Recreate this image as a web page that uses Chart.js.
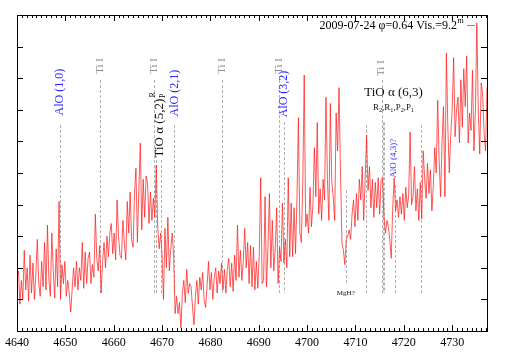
<!DOCTYPE html>
<html>
<head>
<meta charset="utf-8">
<script src="https://cdn.jsdelivr.net/npm/chart.js@4.4.1/dist/chart.umd.min.js"></script>
<style>
  html, body { margin: 0; padding: 0; background: #fff; }
</style>
</head>
<body>
<canvas id="spec" width="509" height="356"></canvas>
<script>
// wavelength grid (Angstrom)
const wavelength = [
  4640.0,4640.3,4640.6,4640.9,4641.2,4641.5,4641.8,4642.1,4642.4,4642.7,
  4643.0,4643.3,4643.6,4643.9,4644.2,4644.5,4644.8,4645.1,4645.4,4645.7,
  4646.0,4646.3,4646.6,4646.9,4647.2,4647.5,4647.8,4648.1,4648.4,4648.7,
  4649.0,4649.3,4649.6,4649.9,4650.2,4650.5,4650.8,4651.1,4651.4,4651.7,
  4652.0,4652.3,4652.6,4652.9,4653.2,4653.5,4653.8,4654.1,4654.4,4654.7,
  4655.0,4655.3,4655.6,4655.9,4656.2,4656.5,4656.8,4657.1,4657.4,4657.7,
  4658.0,4658.3,4658.6,4658.9,4659.2,4659.5,4659.8,4660.1,4660.4,4660.7,
  4661.0,4661.3,4661.6,4661.9,4662.2,4662.5,4662.8,4663.1,4663.4,4663.7,
  4664.0,4664.3,4664.6,4664.9,4665.2,4665.5,4665.8,4666.1,4666.4,4666.7,
  4667.0,4667.3,4667.6,4667.9,4668.2,4668.5,4668.8,4669.1,4669.4,4669.7,
  4670.0,4670.3,4670.6,4670.9,4671.2,4671.5,4671.8,4672.1,4672.4,4672.7,
  4673.0,4673.3,4673.6,4673.9,4674.2,4674.5,4674.8,4675.1,4675.4,4675.7,
  4676.0,4676.3,4676.6,4676.9,4677.2,4677.5,4677.8,4678.1,4678.4,4678.7,
  4679.0,4679.3,4679.6,4679.9,4680.2,4680.5,4680.8,4681.1,4681.4,4681.7,
  4682.0,4682.3,4682.6,4682.9,4683.2,4683.5,4683.8,4684.1,4684.4,4684.7,
  4685.0,4685.3,4685.6,4685.9,4686.2,4686.5,4686.8,4687.1,4687.4,4687.7,
  4688.0,4688.3,4688.6,4688.9,4689.2,4689.5,4689.8,4690.1,4690.4,4690.7,
  4691.0,4691.3,4691.6,4691.9,4692.2,4692.5,4692.8,4693.1,4693.4,4693.7,
  4694.0,4694.3,4694.6,4694.9,4695.2,4695.5,4695.8,4696.1,4696.4,4696.7,
  4697.0,4697.3,4697.6,4697.9,4698.2,4698.5,4698.8,4699.1,4699.4,4699.7,
  4700.0,4700.3,4700.6,4700.9,4701.2,4701.5,4701.8,4702.1,4702.4,4702.7,
  4703.0,4703.3,4703.6,4703.9,4704.2,4704.5,4704.8,4705.1,4705.4,4705.7,
  4706.0,4706.3,4706.6,4706.9,4707.2,4707.5,4707.8,4708.1,4708.4,4708.7,
  4709.0,4709.3,4709.6,4709.9,4710.2,4710.5,4710.8,4711.1,4711.4,4711.7,
  4712.0,4712.3,4712.6,4712.9,4713.2,4713.5,4713.8,4714.1,4714.4,4714.7,
  4715.0,4715.3,4715.6,4715.9,4716.2,4716.5,4716.8,4717.1,4717.4,4717.7,
  4718.0,4718.3,4718.6,4718.9,4719.2,4719.5,4719.8,4720.1,4720.4,4720.7,
  4721.0,4721.3,4721.6,4721.9,4722.2,4722.5,4722.8,4723.1,4723.4,4723.7,
  4724.0,4724.3,4724.6,4724.9,4725.2,4725.5,4725.8,4726.1,4726.4,4726.7,
  4727.0,4727.3,4727.6,4727.9,4728.2,4728.5,4728.8,4729.1,4729.4,4729.7,
  4730.0,4730.3,4730.6,4730.9,4731.2,4731.5,4731.8,4732.1,4732.4,4732.7,
  4733.0,4733.3,4733.6,4733.9,4734.2,4734.5,4734.8,4735.1,4735.4,4735.7,
  4736.0,4736.3,4736.6,4736.9,4737.2
];

// relative flux (plot units, bottom of frame = 0, top = 10)
const flux = [
  1.7,1.9,0.85,1.6,1.0,2.55,1.3,2.0,0.95,2.4,
  1.2,2.15,1.0,1.8,2.9,1.5,1.1,2.2,1.4,2.8,
  1.3,3.35,1.6,1.1,3.1,1.9,1.05,2.6,1.4,4.1,
  1.0,2.1,1.5,2.2,1.1,1.6,1.2,0.6,1.3,2.0,
  1.4,2.2,1.3,2.0,1.6,2.8,1.35,2.5,1.5,2.3,
  2.5,1.5,2.1,1.7,3.7,2.3,1.9,2.7,1.2,2.2,
  2.8,2.0,3.0,2.35,3.1,3.4,2.45,3.1,2.25,4.15,
  3.0,2.4,2.3,3.5,2.8,2.25,4.1,3.1,4.4,2.9,
  2.65,4.35,5.15,2.8,4.5,5.95,3.2,4.8,3.6,4.9,
  4.7,3.4,4.4,3.5,4.2,3.6,5.25,3.3,2.6,3.1,
  2.4,1.0,3.25,2.0,3.6,1.9,2.6,3.1,2.35,0.55,
  1.1,0.55,0.9,0.1,1.2,1.6,0.9,1.95,1.2,1.5,
  1.4,0.75,0.2,1.1,1.6,0.85,1.7,1.3,1.85,1.0,
  0.75,1.4,2.2,1.3,1.85,1.0,1.7,2.0,1.2,1.9,
  1.5,2.15,1.3,1.95,1.2,1.95,2.3,1.4,2.15,1.25,
  2.4,1.6,3.35,1.7,2.55,1.6,2.2,3.25,2.0,2.8,
  1.5,2.7,1.4,2.65,1.3,2.2,1.35,2.4,4.85,1.5,
  1.6,4.25,1.4,2.65,4.35,2.0,3.5,1.9,2.6,3.9,
  1.5,2.65,2.2,4.05,2.15,2.9,2.0,4.85,2.35,4.05,
  2.35,3.9,2.45,4.2,6.75,3.1,2.8,4.7,8.1,3.3,
  3.7,3.1,4.55,3.3,4.0,5.8,4.25,6.6,3.7,4.5,
  3.5,4.8,4.15,7.4,4.8,3.5,7.2,4.7,4.25,3.5,
  6.9,5.7,7.7,5.0,2.8,2.55,2.1,2.9,3.0,3.2,
  2.9,3.7,4.15,3.3,4.35,3.5,4.8,4.15,5.2,3.5,
  4.8,6.2,4.45,5.2,3.9,4.8,3.6,4.7,3.9,4.85,
  3.7,4.8,4.85,3.6,3.1,3.5,3.3,2.9,2.3,3.9,
  4.85,3.8,4.15,3.6,4.25,3.7,4.35,3.5,4.55,3.9,
  4.3,6.3,4.0,4.25,5.2,3.8,4.5,3.5,4.7,3.55,
  5.7,4.85,4.2,5.3,4.35,5.1,3.8,4.6,5.8,5.0,
  7.3,5.4,4.25,5.95,7.1,4.25,8.8,6.45,5.0,6.2,
  7.0,8.65,6.15,7.0,7.4,5.95,7.95,6.45,8.3,7.1,
  8.7,5.95,6.9,6.35,8.25,5.7,7.0,9.75,7.0,5.6,
  7.85,7.5,6.25,5.7,7.7
];

const xTicks = [4640, 4650, 4660, 4670, 4680, 4690, 4700, 4710, 4720, 4730];
const seriesName = '2009-07-24 \u03c6=0.64 Vis.=9.2';

// line identifications: [wavelength, top, bottom] in plot units
const lineMarks = [
  [4648.95, 6.52, 1.2],
  [4657.18, 7.94, 1.2],
  [4668.29, 7.94, 1.2],
  [4668.77, 5.41, 1.2],
  [4669.73, 5.41, 1.2],
  [4672.5, 6.52, 1.2],
  [4682.49, 7.94, 1.2],
  [4694.22, 7.94, 1.2],
  [4695.25, 6.61, 1.2],
  [4708.0, 4.46, 1.52],
  [4712.12, 6.52, 1.2],
  [4715.4, 7.94, 1.2],
  [4715.7, 6.6, 1.2],
  [4716.0, 6.6, 1.2],
  [4718.1, 4.62, 1.2],
  [4723.45, 6.52, 1.2]
];

// labels: [text, wavelength, y, colour, size, rotated]
const lineLabels = [
  ['AlO (1,0)', 4648.95, 7.56, '#2b2bff', 12, true],
  ['Ti I', 4657.18, 8.39, '#8c8c8c', 11, true],
  ['Ti I', 4668.29, 8.39, '#8c8c8c', 11, true],
  ['TiO \u03b1 (5,2)', 4669.5, 6.42, '#111', 13, true],
  ['R', 4668.09, 7.47, '#111', 8, true],
  ['P', 4670.25, 7.44, '#111', 8, true],
  ['AlO (2,1)', 4672.61, 7.53, '#2b2bff', 12, true],
  ['Ti I', 4682.49, 8.39, '#8c8c8c', 11, true],
  ['Ti I', 4694.22, 8.39, '#8c8c8c', 11, true],
  ['AlO (3,2)', 4695.25, 7.5, '#2b2bff', 12, true],
  ['Ti I', 4715.4, 8.32, '#8c8c8c', 11, true],
  ['TiO \u03b1 (6,3)', 4717.88, 7.53, '#111', 13, false],
  ['AlO (4,3)?', 4717.98, 5.47, '#2b2bff', 9, true],
  ['MgH?', 4708.0, 1.2, '#111', 7, false]
];

const SERIF = '"Liberation Serif", "DejaVu Serif", serif';

function subText(ctx, parts, cx, cy, size) {
  // parts: [text, isSub]
  let w = 0;
  for (const p of parts) {
    ctx.font = (p[1] ? size * 0.7 : size) + 'px ' + SERIF;
    w += ctx.measureText(p[0]).width;
  }
  let xx = cx - w / 2;
  ctx.textAlign = 'left';
  ctx.textBaseline = 'alphabetic';
  for (const p of parts) {
    ctx.font = (p[1] ? size * 0.7 : size) + 'px ' + SERIF;
    ctx.fillText(p[0], xx, cy + (p[1] ? 2 : 0));
    xx += ctx.measureText(p[0]).width;
  }
}

const decor = {
  id: 'decor',
  beforeDatasetsDraw(chart) {
    const {ctx, scales: {x, y}} = chart;
    ctx.save();
    ctx.strokeStyle = '#b0b0b0';
    ctx.lineWidth = 1;
    ctx.setLineDash([3, 2]);
    for (const m of lineMarks) {
      const px = Math.round(x.getPixelForValue(m[0])) + 0.5;
      ctx.beginPath();
      ctx.moveTo(px, y.getPixelForValue(m[1]));
      ctx.lineTo(px, y.getPixelForValue(m[2]));
      ctx.stroke();
    }
    ctx.restore();
  },
  afterDraw(chart) {
    const {ctx, chartArea: a, scales: {x, y}} = chart;
    ctx.save();
    // frame
    ctx.strokeStyle = '#000';
    ctx.lineWidth = 1;
    ctx.strokeRect(Math.round(a.left) + 0.5, Math.round(a.top) + 0.5,
      Math.round(a.right - a.left), Math.round(a.bottom - a.top));
    // x ticks (inward, bottom and top)
    ctx.beginPath();
    for (let v = Math.ceil(x.min); v <= x.max; v++) {
      const px = Math.round(x.getPixelForValue(v)) + 0.5;
      const len = (v % 10 === 0) ? 6 : 3;
      ctx.moveTo(px, a.bottom); ctx.lineTo(px, a.bottom - len);
      ctx.moveTo(px, a.top); ctx.lineTo(px, a.top + len);
    }
    // y ticks (inward, left and right)
    for (let v = 1; v < 10; v++) {
      const py = Math.round(y.getPixelForValue(v)) + 0.5;
      ctx.moveTo(a.left, py); ctx.lineTo(a.left + 6, py);
      ctx.moveTo(a.right, py); ctx.lineTo(a.right - 6, py);
    }
    ctx.stroke();

    // identification labels
    for (const l of lineLabels) {
      const px = x.getPixelForValue(l[1]);
      const py = y.getPixelForValue(l[2]);
      ctx.fillStyle = l[3];
      ctx.font = l[4] + 'px ' + SERIF;
      ctx.textAlign = 'center';
      ctx.textBaseline = 'middle';
      if (l[5]) {
        ctx.save();
        ctx.translate(px, py);
        ctx.rotate(-Math.PI / 2);
        ctx.fillText(l[0], 0, 0);
        ctx.restore();
      } else {
        ctx.fillText(l[0], px, py);
      }
    }
    ctx.fillStyle = '#111';
    subText(ctx, [['R', 0], ['2', 1], [',R', 0], ['1', 1], [',P', 0], ['2', 1], [',P', 0], ['1', 1]],
      x.getPixelForValue(4717.88), y.getPixelForValue(7.0), 9);

    // key: series name with superscript m and sample line
    ctx.fillStyle = '#000';
    ctx.font = '12px ' + SERIF;
    ctx.textAlign = 'right';
    ctx.textBaseline = 'alphabetic';
    ctx.fillText(seriesName, a.right - 30, a.top + 14);
    ctx.font = '8px ' + SERIF;
    ctx.textAlign = 'left';
    ctx.fillText('m', a.right - 29.5, a.top + 8);
    ctx.strokeStyle = 'rgba(255,40,40,0.8)';
    ctx.beginPath();
    ctx.moveTo(a.right - 20, a.top + 10.5);
    ctx.lineTo(a.right - 12, a.top + 10.5);
    ctx.stroke();
    ctx.restore();
  }
};

new Chart(document.getElementById('spec'), {
  type: 'line',
  data: {
    datasets: [{
      label: seriesName,
      data: wavelength.map((w, i) => ({x: w, y: flux[i]})),
      borderColor: 'rgba(255,25,25,0.72)',
      borderWidth: 1,
      pointRadius: 0,
      tension: 0
    }]
  },
  options: {
    responsive: false,
    animation: false,
    layout: {padding: {left: 14, right: 22, top: 15, bottom: 0}},
    plugins: {legend: {display: false}, tooltip: {enabled: false}},
    scales: {
      x: {
        type: 'linear',
        min: 4640,
        max: 4737.2,
        grid: {display: false, drawTicks: false},
        border: {display: false},
        afterBuildTicks: s => { s.ticks = xTicks.map(v => ({value: v})); },
        afterFit: s => { s.height = 25; },
        ticks: {
          autoSkip: false,
          maxRotation: 0,
          padding: 5,
          color: '#000',
          font: {family: SERIF, size: 12},
          callback: v => String(v)
        }
      },
      y: {
        display: false,
        min: 0,
        max: 10
      }
    }
  },
  plugins: [decor]
});
</script>
</body>
</html>
